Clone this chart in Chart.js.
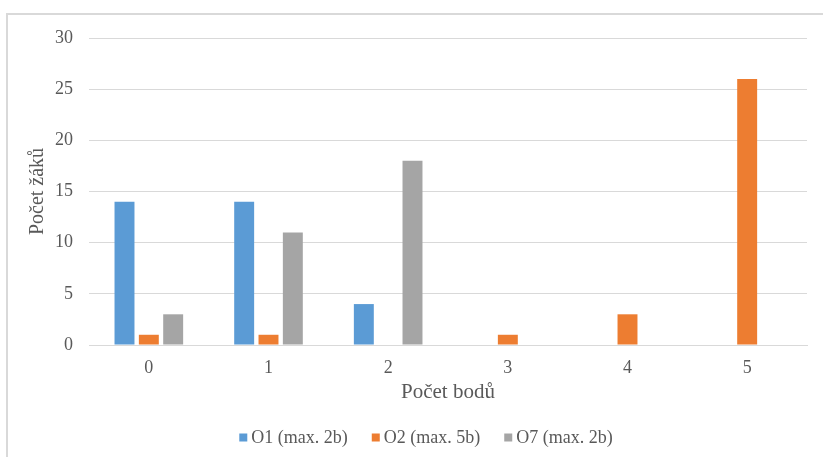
<!DOCTYPE html>
<html lang="cs">
<head>
<meta charset="utf-8">
<title>Počet bodů – O1, O2, O7</title>
<script src="https://cdn.jsdelivr.net/npm/chart.js@4/dist/chart.umd.min.js"></script>
<style>
  html, body { margin: 0; padding: 0; background: #ffffff; overflow: hidden; }
  #wrap { position: relative; width: 823px; height: 457px; }
  #frame {
    position: absolute; left: 6px; top: 13px; width: 840px; height: 470px;
    border: 2px solid #d9d9d9; box-sizing: border-box;
  }
  canvas { position: absolute; left: 0; top: 0; }
</style>
</head>
<body>
<div id="wrap">
  <div id="frame"></div>
  <canvas id="chart" width="823" height="457"></canvas>
</div>
<script>
// Points scored (x axis categories)
const categories = ['0', '1', '2', '3', '4', '5'];

// Number of pupils per points scored, one array per task
const seriesO1 = [14, 14, 4, null, null, null];
const seriesO2 = [1, 1, null, 1, 3, 26];
const seriesO7 = [3, 11, 18, null, null, null];

const seriesLabels = ['O1 (max. 2b)', 'O2 (max. 5b)', 'O7 (max. 2b)'];
const seriesColors = ['#5B9BD5', '#ED7D31', '#A5A5A5'];

const yTitle = 'Počet žáků';
const xTitle = 'Počet bodů';

const FONT = '"Liberation Serif", "Times New Roman", serif';
const TEXT = '#595959';
const GRID = '#d9d9d9';

// Legend drawn under the x-axis title: small square swatch + label
const bottomLegend = {
  id: 'bottomLegend',
  afterDraw(chart) {
    const ctx = chart.ctx;
    const box = 8, gapText = 4, gapItem = 24;
    ctx.save();
    ctx.font = '18px ' + FONT;
    ctx.textBaseline = 'middle';
    const items = chart.data.datasets.map(ds => ({
      label: ds.label, color: ds.backgroundColor, w: ctx.measureText(ds.label).width
    }));
    const total = items.reduce((s, it) => s + box + gapText + it.w, 0) + gapItem * (items.length - 1);
    let x = 426 - total / 2;
    const y = 438;
    items.forEach(it => {
      ctx.fillStyle = it.color;
      ctx.fillRect(x, y - 4.5, box, box);
      x += box + gapText;
      ctx.fillStyle = TEXT;
      ctx.fillText(it.label, x, y);
      x += it.w + gapItem;
    });
    ctx.restore();
  }
};

const datasets = [seriesO1, seriesO2, seriesO7].map((vals, i) => ({
  label: seriesLabels[i],
  data: vals,
  backgroundColor: seriesColors[i],
  borderWidth: 0,
  categoryPercentage: 0.61,
  barPercentage: 0.82
}));

new Chart(document.getElementById('chart'), {
  type: 'bar',
  data: { labels: categories, datasets },
  plugins: [bottomLegend],
  options: {
    responsive: false,
    animation: false,
    layout: { padding: { top: 38, right: 16, bottom: 52, left: 26 } },
    plugins: {
      legend: { display: false },
      tooltip: { enabled: false }
    },
    scales: {
      x: {
        grid: { display: false, drawTicks: false },
        border: { color: GRID, width: 1 },
        ticks: { color: TEXT, font: { family: FONT, size: 18 }, padding: 12 },
        title: {
          display: true, text: xTitle, color: TEXT,
          font: { family: FONT, size: 21 }, padding: { top: 0, bottom: 0 }
        },
        afterFit(scale) { scale.height = 60; }
      },
      y: {
        min: 0, max: 30,
        ticks: { stepSize: 5, color: TEXT, font: { family: FONT, size: 18 }, padding: 16 },
        grid: { color: GRID, lineWidth: 1, drawTicks: false },
        border: { display: false },
        title: {
          display: true, text: yTitle, color: TEXT,
          font: { family: FONT, size: 20 }, padding: { top: 0, bottom: 0 }
        },
        afterFit(scale) { scale.width = 63; }
      }
    }
  }
});
</script>
</body>
</html>
